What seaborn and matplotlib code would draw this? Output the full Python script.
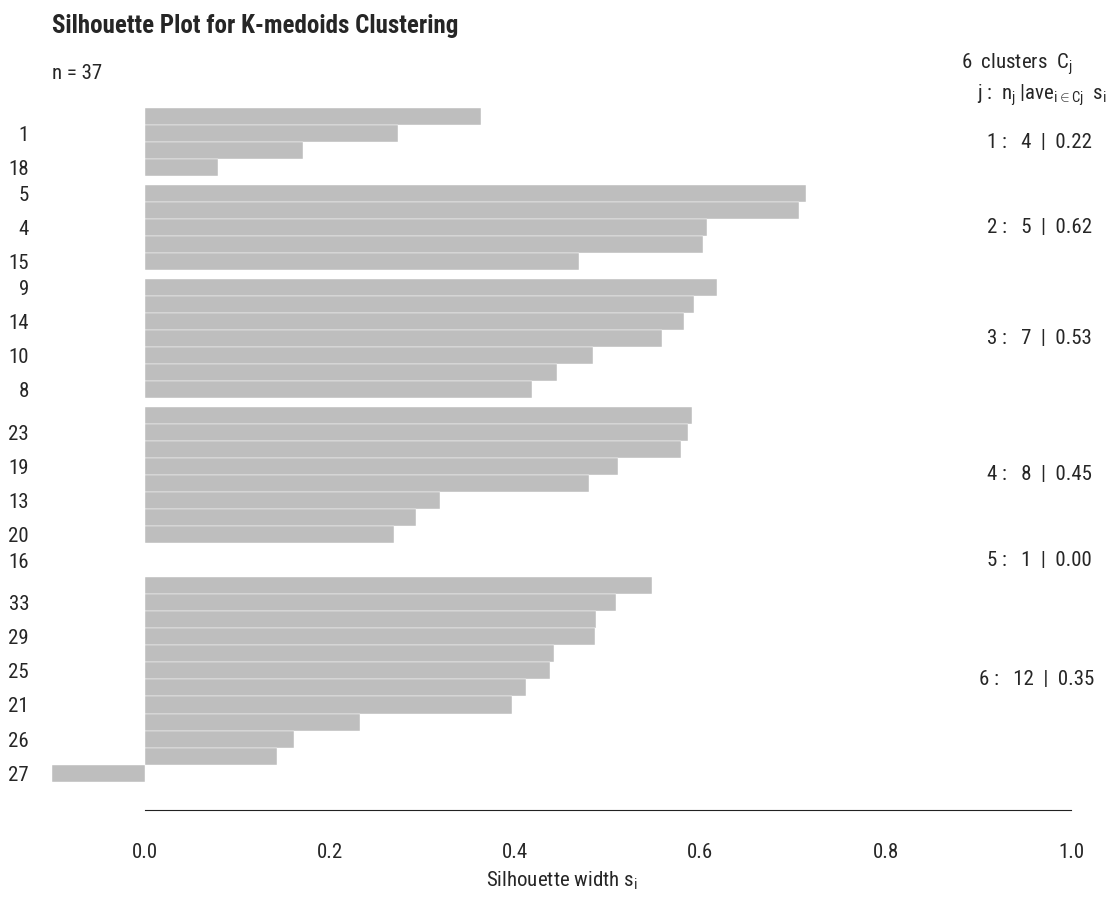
import numpy as np
import pandas as pd
import matplotlib
matplotlib.use("Agg")
import matplotlib.pyplot as plt
from matplotlib import font_manager
import seaborn as sns

# Silhouette widths, clusters in plotting order (top to bottom)
cluster_ids = [1, 2, 3, 4, 5, 6]
cluster_sizes = [4, 5, 7, 8, 1, 12]
cluster_avg = [0.22, 0.62, 0.53, 0.45, 0.00, 0.35]
sil_width = [
    0.363, 0.274, 0.171, 0.079,
    0.714, 0.706, 0.607, 0.603, 0.469,
    0.618, 0.593, 0.582, 0.558, 0.484, 0.445, 0.418,
    0.591, 0.587, 0.579, 0.511, 0.480, 0.319, 0.293, 0.269,
    0.000,
    0.548, 0.509, 0.487, 0.486, 0.442, 0.438, 0.412, 0.397, 0.232, 0.161, 0.143, -0.100,
]
# only every other observation name is visible in the original
obs_labels = [
    "", "1", "", "18",
    "5", "", "4", "", "15",
    "9", "", "14", "", "10", "", "8",
    "", "23", "", "19", "", "13", "", "20",
    "16",
    "", "33", "", "29", "", "25", "", "21", "", "26", "", "27",
]
x_ticks = [0.0, 0.2, 0.4, 0.6, 0.8, 1.0]
n_obs = len(sil_width)

# bar positions: unit-height bars, half-bar gap between clusters
pos = []
cluster_center = []
start = 0.0
for j, size in enumerate(cluster_sizes):
    if j > 0:
        start += 0.5
    centers = [start + k + 0.5 for k in range(size)]
    pos.extend(centers)
    cluster_center.append(np.mean(centers))
    start += size

df = pd.DataFrame({"width": sil_width, "pos": pos})

sns.set_style("white")
# pick a narrow Arial-like face if there is one
available = {f.name for f in font_manager.fontManager.ttflist}
narrow = "Liberation Sans"
for cand in ["Liberation Sans Narrow", "Nimbus Sans Narrow", "Arial Narrow",
             "Roboto Condensed", "PT Sans Narrow", "Archivo Narrow"]:
    if cand in available:
        narrow = cand
        break
plt.rcParams["font.family"] = [narrow, "DejaVu Sans"]
plt.rcParams["mathtext.fontset"] = "custom"
plt.rcParams["mathtext.rm"] = narrow
plt.rcParams["mathtext.it"] = narrow
plt.rcParams["mathtext.sf"] = narrow

W, H = 1110, 900
fig = plt.figure(figsize=(W / 100, H / 100), dpi=100)
# plot region in pixels: x 52..1071, y 80..810
ax = fig.add_axes([52 / W, 1 - 810 / H, (1071 - 52) / W, (810 - 80) / H])

sns.barplot(data=df, x="width", y="pos", orient="y", native_scale=True,
            color="#bebebe", saturation=1, width=1, edgecolor="white",
            linewidth=0.3, errorbar=None, ax=ax)

ax.set_xlim(-0.1, 1.0)
ax.set_ylim(41.16, -1.66)

ax.set_xticks(x_ticks)
ax.set_xticklabels([f"{t:.1f}" for t in x_ticks])
ax.set_yticks(pos)
ax.set_yticklabels(obs_labels)
ax.tick_params(axis="x", length=9.4, width=0.8, direction="out", pad=14,
               labelsize=15, color="#222222")
ax.tick_params(axis="y", length=0, pad=16.5, labelsize=15)
ax.set_xlabel(r"Silhouette width $s_i$", fontsize=15, labelpad=6)
ax.set_ylabel("")

for side in ["left", "top", "right"]:
    ax.spines[side].set_visible(False)
ax.spines["bottom"].set_bounds(0, 1)
ax.spines["bottom"].set_color("#222222")
ax.spines["bottom"].set_linewidth(0.8)

fig.text(52 / W, 1 - 33 / H, "Silhouette Plot for K-medoids Clustering",
         fontsize=18, fontweight="bold", ha="left", va="baseline")
fig.text(52 / W, 1 - 79 / H, f"n = {n_obs}", fontsize=15, ha="left", va="baseline")
fig.text(1072 / W, 1 - 69 / H, rf"{len(cluster_ids)}  clusters  $C_j$",
         fontsize=15, ha="right", va="baseline")
fig.text(1107 / W, 1 - 100 / H, r"$j$ :  $n_j$ |$ave_{i\in Cj}$  $s_i$",
         fontsize=15, ha="right", va="baseline")

stat_texts = []
for cid, size, avg, yc in zip(cluster_ids, cluster_sizes, cluster_avg, cluster_center):
    t = ax.text(1.0, yc, f"{cid} :   {size}  |  {avg:.2f}", fontsize=15,
                ha="left", va="center", clip_on=False)
    stat_texts.append(t)

# mimic R's adj = 0.8: 80% of the text to the left of x = 1
fig.canvas.draw()
px_per_unit = (1071 - 52) / 1.1
for t in stat_texts:
    w = t.get_window_extent().width
    t.set_x(1.0 - 0.8 * w / px_per_unit)

fig.savefig("out.png", dpi=100)
